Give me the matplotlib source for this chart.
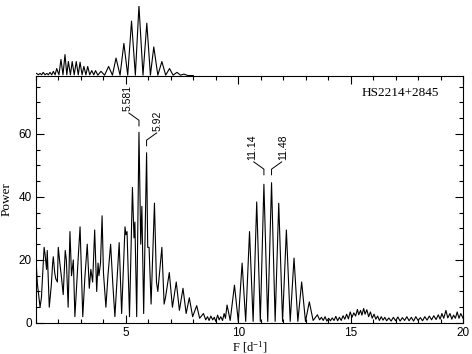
import matplotlib
matplotlib.use("Agg")
import matplotlib.pyplot as plt
from matplotlib.ticker import MultipleLocator

plt.rcParams['font.family'] = ['Liberation Serif', 'DejaVu Serif']
plt.rcParams['mathtext.default'] = 'regular'

# periodogram (frequency in 1/d, power)
freq = [1.00, 1.06, 1.18, 1.24, 1.36, 1.40, 1.47, 1.50, 1.59, 1.68, 1.74, 1.77, 1.83, 1.88,
        1.95, 1.99, 2.06, 2.14, 2.21, 2.30, 2.35, 2.43, 2.51, 2.58, 2.66, 2.73, 2.88, 2.96,
        3.03, 3.08, 3.17, 3.28, 3.37, 3.44, 3.52, 3.61, 3.70, 3.76, 3.80, 3.87, 3.94, 4.00,
        4.11, 4.20, 4.32, 4.42, 4.51, 4.70, 4.81, 4.96, 5.00, 5.05, 5.16, 5.29, 5.36, 5.40,
        5.48, 5.581, 5.66, 5.71, 5.79, 5.92, 5.97, 6.03, 6.12, 6.27, 6.36, 6.42, 6.60, 6.70,
        6.76, 6.93, 7.07, 7.24, 7.38, 7.54, 7.68, 7.82, 7.97, 8.15, 8.28, 8.45, 8.55,
        8.63, 8.70, 8.78, 8.86, 8.93, 9.00, 9.08, 9.15, 9.22, 9.30, 9.37, 9.43,
        9.50, 9.64, 9.83, 10.00, 10.17, 10.33, 10.50, 10.66, 10.82, 10.98, 11.14, 11.31,
        11.48, 11.64, 11.80, 11.97, 12.14, 12.31, 12.48, 12.65, 12.82, 12.99, 13.16, 13.33,
        13.52, 13.62,
        13.70, 13.78, 13.86, 13.94, 14.02, 14.10, 14.18, 14.26, 14.34, 14.42, 14.50, 14.58,
        14.66, 14.74, 14.82, 14.90, 14.98, 15.06, 15.14, 15.22, 15.30, 15.36, 15.44, 15.50,
        15.58, 15.64, 15.72, 15.80, 15.88, 15.96, 16.04, 16.12, 16.20, 16.28, 16.36, 16.44,
        16.52, 16.60, 16.70, 16.80, 16.90, 17.00, 17.10, 17.20, 17.30, 17.40, 17.50, 17.60,
        17.70, 17.80, 17.90, 18.00, 18.10, 18.20, 18.30, 18.40, 18.50, 18.60, 18.70, 18.80,
        18.90, 18.98, 19.06, 19.14, 19.24, 19.32, 19.42, 19.50, 19.58, 19.66, 19.74, 19.82,
        19.90, 20.00]
power = [20, 12.6, 5, 8, 24, 22, 17, 23, 5, 12, 19, 21, 16, 14,
         13, 24, 19, 14, 9, 23, 20, 5, 29, 15, 20, 2, 21, 30.5,
         14, 2, 14, 25, 11, 17, 13, 29.5, 10, 19, 15, 19, 34, 16,
         5, 15, 25, 12, 2, 25.5, 3, 30.5, 28, 29, 2, 43, 27, 32,
         2, 60.5, 25, 37, 3, 54, 24, 24, 6, 38, 13, 10, 24, 6,
         8, 16, 5, 13, 4, 11, 3, 8, 2, 5.5, 1.5, 3, 1,
         2, 0.8, 2.2, 1, 1.8, 0.5, 2.5, 1, 2, 0.8, 3, 1.5,
         5.7, 0.8, 12, 0.5, 19, 0.5, 29, 0.5, 38.4, 0.5, 44, 0.5,
         44.5, 0.5, 38, 0.5, 29.5, 0.5, 20.6, 0.5, 13, 0.5, 6.7, 0.8,
         2.6, 1,
         1.8, 0.8, 2, 0.6, 1.5, 0.7, 1.6, 0.8, 2.1, 0.7, 1.8, 0.8,
         2.3, 1.2, 2.8, 1.3, 3.5, 1.8, 3.2, 2.2, 4.3, 2.6, 4.0, 2.5,
         4.6, 2.8, 4.2, 2.0, 3.5, 1.5, 2.8, 1.2, 2.2, 0.8, 2.0, 0.9,
         1.8, 0.7, 1.6, 0.6, 1.8, 0.7, 1.9, 0.6, 1.7, 0.8, 2.0, 0.7,
         1.8, 0.6, 2.0, 0.8, 1.7, 0.7, 2.0, 0.9, 2.2, 1.0, 2.3, 1.1,
         2.6, 1.2, 3.0, 1.5, 4.0, 1.6, 3.0, 1.2, 2.5, 1.5, 3.5, 1.5,
         3.0, 1.5]

# spectral window (relative amplitude), drawn above the periodogram
win_freq = [1.00, 1.03, 1.10, 1.18, 1.25, 1.32, 1.40, 1.48, 1.55, 1.62, 1.70, 1.77, 1.85,
            1.92, 2.02, 2.11, 2.20, 2.29, 2.37, 2.44, 2.53, 2.61, 2.70, 2.79, 2.88, 2.96,
            3.05, 3.13, 3.22, 3.30, 3.39, 3.48, 3.57, 3.65, 3.75, 3.89, 4.05, 4.23, 4.40,
            4.56, 4.74, 4.91, 5.08, 5.25, 5.42, 5.58, 5.76, 5.93, 6.09, 6.24, 6.42, 6.60,
            6.77, 6.94, 7.10, 7.27, 7.43, 7.58, 7.75, 8.00]
win_amp = [0.03, 0.03, 0.01, 0.03, 0.01, 0.045, 0.01, 0.03, 0.01, 0.045, 0.01, 0.06, 0.01,
           0.10, 0.01, 0.23, 0.01, 0.30, 0.01, 0.20, 0.01, 0.20, 0.01, 0.20, 0.01, 0.19,
           0.01, 0.13, 0.01, 0.13, 0.01, 0.07, 0.01, 0.07, 0.005, 0.06, 0.005, 0.13, 0.005,
           0.25, 0.005, 0.46, 0.005, 0.78, 0.005, 1.0, 0.005, 0.75, 0.005, 0.41, 0.005, 0.20,
           0.005, 0.10, 0.005, 0.045, 0.005, 0.02, 0.0, 0.0]

peak_labels = ['5.581', '5.92', '11.14', '11.48']
peak_freq = [5.581, 5.92, 11.14, 11.48]
peak_top = [62.5, 56.2, 47.0, 47.0]
peak_side = [-1, 1, -1, 1]

fig = plt.figure(figsize=(4.72, 3.54), dpi=100)
ax = fig.add_axes([0.0763, 0.0876, 0.9047, 0.6991])
axw = fig.add_axes([0.0763, 0.7867, 0.9047, 0.197])

ax.plot(freq, power, color='black', lw=0.8)
ax.set_xlim(1, 20)
ax.set_ylim(0, 78.5)
ax.xaxis.set_major_locator(MultipleLocator(5))
ax.xaxis.set_minor_locator(MultipleLocator(1))
ax.yaxis.set_major_locator(MultipleLocator(20))
ax.yaxis.set_minor_locator(MultipleLocator(5))
ax.tick_params(which='both', direction='in', top=True, right=True, width=0.8)
ax.tick_params(which='major', length=6, pad=3)
ax.tick_params(which='minor', length=3)
for lab in ax.get_xticklabels() + ax.get_yticklabels():
    lab.set_family('Liberation Sans')
    lab.set_fontsize(8.5)
for sp in ax.spines.values():
    sp.set_linewidth(0.8)
ax.set_xlabel('F [d$^{-1}$]', fontsize=9, labelpad=0)
ax.set_ylabel('Power', fontsize=9.5, labelpad=4)
ax.text(17.2, 73, 'HS2214+2845', fontsize=9.5, ha='center', va='center')

# peak annotations: short vertical tick, slanted leader, rotated label
for lab, f, top, s in zip(peak_labels, peak_freq, peak_top, peak_side):
    h = 1.8
    ax.plot([f, f, f + s * 0.45], [top, top + h, top + h + 2.3], color='black', lw=0.7)
    ax.text(f + s * 0.5, top + h + 2.8, lab, rotation=90, ha='center', va='bottom',
            fontsize=7.5, family='Liberation Sans')

axw.plot(win_freq, win_amp, color='black', lw=0.8)
axw.set_xlim(1, 20)
axw.set_ylim(0, 1.0)
axw.axis('off')

fig.savefig('out.png', dpi=100)
